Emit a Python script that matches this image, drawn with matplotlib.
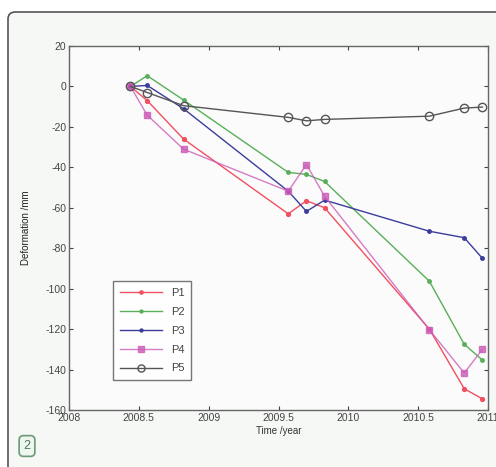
import matplotlib.pyplot as plt
from matplotlib.patches import FancyBboxPatch

plt.rcParams['font.family'] = ['Liberation Sans', 'DejaVu Sans']
plt.rcParams['axes.unicode_minus'] = False

# Survey epochs (decimal year)
dates = [2008.44, 2008.56, 2008.82, 2009.57, 2009.70, 2009.83, 2010.58, 2010.83, 2010.96]

# Cumulative deformation at each point (mm)
p1 = [0, -7, -26, -63, -56.5, -60, -120, -149.5, -154.5]
p2 = [0, 5.3, -6.7, -42.5, -43.5, -47, -96.3, -127.5, -135.3]
p3 = [0, 0.5, -11, -51.8, -61.8, -56.2, -71.6, -74.8, -85]
p4 = [0, -14.2, -31, -51.8, -38.6, -54.3, -120.3, -141.7, -130]
p5 = [0, -3, -9.5, -15.3, -17, -16.3, -14.7, -10.7, -10.2]

series = [
    ('P1', p1, '#f25060', '.', 5.5),
    ('P2', p2, '#5aae5a', '.', 5),
    ('P3', p3, '#3c3c9c', '.', 5),
    ('P4', p4, '#cc5cb8', 's', 5),
    ('P5', p5, '#555555', 'o', 6),
]

xticks = [2008, 2008.5, 2009, 2009.5, 2010, 2010.5, 2011]
xticklabels = ['2008', '2008.5', '2009', '2009.5', '2010', '2010.5', '2011']
yticks = list(range(-160, 21, 20))

fig = plt.figure(figsize=(4.96, 4.67), dpi=100)
fig.patch.set_facecolor('#ffffff')

# outer panel frame, kept behind the axes
frame = FancyBboxPatch((8 / 496, -0.05), 1.1, 1 - 12 / 467 + 0.05,
                       boxstyle='round,pad=0,rounding_size=0.015',
                       transform=fig.transFigure, facecolor='#f6f8f6',
                       edgecolor='#555555', linewidth=1.2, zorder=-5)
fig.patches.append(frame)

ax = fig.add_axes([69 / 496, 1 - 410 / 467, 419 / 496, 364 / 467])
ax.set_facecolor('#fafbfa')

for name, vals, color, marker, ms in series:
    if marker == 'o':
        ax.plot(dates, vals, color=color, marker=marker, markersize=ms,
                markerfacecolor='none', linewidth=1, label=name)
    elif marker == 's':
        ax.plot(dates, vals, color=color, marker=marker, markersize=ms,
                markerfacecolor=color, alpha=0.8, linewidth=1, label=name)
    else:
        ax.plot(dates, vals, color=color, marker=marker, markersize=ms,
                linewidth=1, label=name)

ax.set_xlim(2008, 2011)
ax.set_ylim(-160, 20)
ax.set_xticks(xticks)
ax.set_xticklabels(xticklabels)
ax.set_yticks(yticks)
ax.tick_params(direction='in', top=True, right=True, labelsize=7.5,
               colors='#444444', length=3, pad=2)
for s in ax.spines.values():
    s.set_color('#666666')
    s.set_linewidth(1)

ax.set_xlabel('Time /year', fontsize=7, color='#333333', labelpad=2)
ax.set_ylabel('Deformation /mm', fontsize=7, color='#222222', labelpad=10)

leg = ax.legend(loc='lower left', bbox_to_anchor=(0.105, 0.082), fontsize=8,
                frameon=True, fancybox=False, edgecolor='#555555',
                handlelength=3.8, labelspacing=0.8, borderpad=0.6,
                borderaxespad=0, markerscale=0.85)
leg.get_frame().set_linewidth(1)
for t in leg.get_texts():
    t.set_color('#444444')

# panel number badge
fig.text(27 / 496, 1 - 446 / 467, '2', fontsize=9, color='#4a7a5a',
         ha='center', va='center',
         bbox=dict(boxstyle='round,pad=0.35', facecolor='#eef6ee',
                   edgecolor='#6a9a7a', linewidth=1.2))

fig.savefig('out.png', dpi=100)
